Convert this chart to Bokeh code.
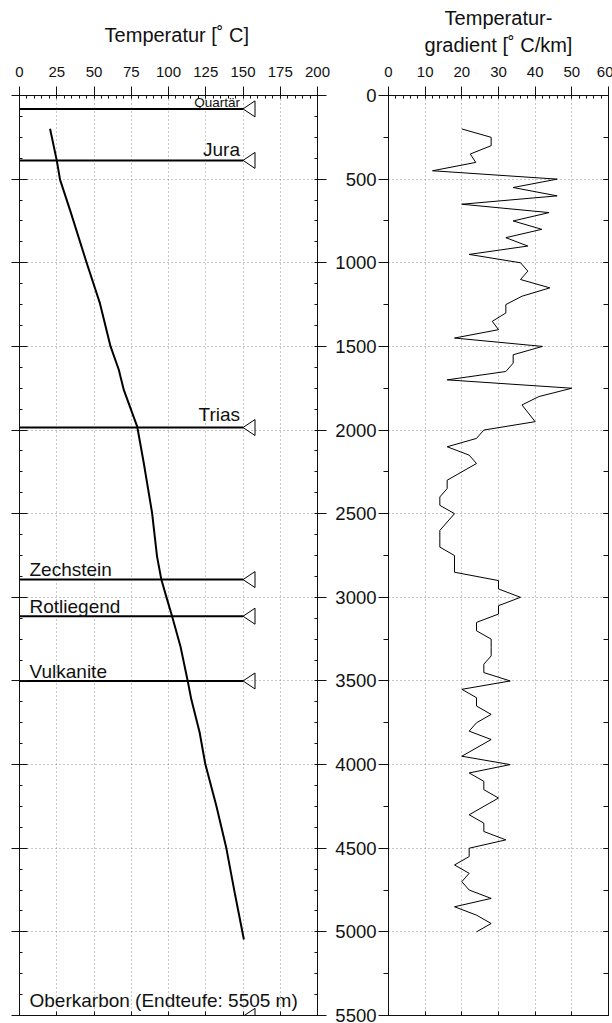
from bokeh.plotting import figure
from bokeh.layouts import row
from bokeh.models import Range1d, LinearAxis, FixedTicker
from bokeh.core.properties import value
from bokeh.embed import file_html
from bokeh.resources import INLINE

# --- data -------------------------------------------------------------
# Borehole temperature log: depth [m] and temperature [deg C]
temp_depth = [199, 388, 503, 696, 998, 1243, 1500, 1641, 1700, 1760, 1979,
              2197, 2496, 2755, 2894, 2993, 3113, 3292, 3500, 3610, 3808,
              3997, 4246, 4499, 4783, 5046]
temp_value = [20.5, 25.0, 27.2, 34.3, 45.0, 54.0, 61.1, 66.7, 68.3, 70.0,
              79.0, 83.4, 89.0, 92.3, 95.2, 98.4, 102.4, 108.0, 112.9, 115.3,
              120.9, 124.7, 132.1, 138.8, 144.8, 150.6]

# Temperature gradient: depth [m] and gradient [deg C/km]
grad_depth = [200, 250, 300, 350, 400, 450, 500, 550, 600, 650, 700, 750,
              800, 850, 900, 950, 1000, 1050, 1100, 1150, 1200, 1250, 1300,
              1350, 1400, 1450, 1500, 1550, 1600, 1650, 1700, 1750, 1800,
              1850, 1950, 2000, 2050, 2100, 2150, 2200, 2300, 2350, 2400,
              2450, 2500, 2600, 2650, 2700, 2750, 2800, 2850, 2900, 2950,
              3000, 3050, 3100, 3150, 3200, 3250, 3300, 3350, 3400, 3450,
              3500, 3550, 3600, 3650, 3700, 3750, 3800, 3850, 3950, 4000,
              4050, 4100, 4150, 4200, 4300, 4350, 4400, 4450, 4500, 4550,
              4600, 4650, 4700, 4750, 4800, 4850, 4900, 4950, 5000]
grad_value = [20, 28, 28, 22.3, 23.8, 12, 46, 34, 46, 20, 43.8, 34,
              41.8, 32, 38, 22, 36, 38, 36, 44, 36.4, 32, 32,
              28.3, 30, 18, 42, 34, 34, 32, 16, 50, 41,
              36.4, 40, 26, 24, 16, 22, 24, 16, 16, 14,
              14, 18, 14, 14, 14, 18, 18, 18, 30, 30,
              36, 30, 30, 24, 24, 28, 28, 28, 26, 26,
              33.2, 20, 24, 24, 28, 24, 22, 28, 20, 33.2,
              22, 26, 26, 30, 22, 26, 26, 32, 22, 22,
              18, 22, 20, 22, 28, 18, 24, 28, 24]

# Stratigraphic horizons (base depth in m)
horizon_names = ["Quartär", "Jura", "Trias", "Zechstein", "Rotliegend",
                 "Vulkanite", "Oberkarbon (Endteufe: 5505 m)"]
horizon_depth = [80, 388, 1985, 2894, 3113, 3500, 5505]
horizon_temp_end = 150  # horizon marker lines run to 150 deg C

# Axis ticks
temp_ticks = [0, 25, 50, 75, 100, 125, 150, 175, 200]
temp_minor = list(range(0, 201, 5))
grad_ticks = [0, 10, 20, 30, 40, 50, 60]
grad_minor = list(range(0, 61, 2))
depth_ticks = [0, 500, 1000, 1500, 2000, 2500, 3000, 3500, 4000, 4500,
               5000, 5500]

# --- styling ----------------------------------------------------------
FONT = "Liberation Sans"
INK = "#111111"
GRID = "#8c8c8c"
NBSP = "\u00a0"
label_side = ["right", "right", "right", "left", "left", "left", "left"]
label_size = ["13.5px"] + ["19px"] * 6
label_lift = [6, 11, 13, 10, 10, 9, 16]

FRAME_H = 920


def style_axis(ax, labels=True, size="15px"):
    ax.axis_line_color = INK
    ax.major_tick_line_color = INK
    ax.minor_tick_line_color = INK
    ax.major_label_text_font = FONT
    ax.major_label_text_color = INK
    ax.major_label_text_font_size = size if labels else "0px"
    ax.axis_label_text_font = FONT
    ax.axis_label_text_font_style = "normal"
    ax.axis_label_text_color = INK
    ax.axis_label_text_font_size = "20px"


def make_fig(x_end, frame_w, bl, br):
    p = figure(x_range=Range1d(0, x_end), y_range=Range1d(5500, 0),
               frame_width=frame_w, frame_height=FRAME_H,
               min_border_left=bl, min_border_right=br,
               min_border_top=95, min_border_bottom=8,
               x_axis_location="above", toolbar_location=None,
               output_backend="svg", background_fill_color="white",
               border_fill_color="white")
    p.outline_line_color = INK
    p.xgrid.grid_line_color = GRID
    p.ygrid.grid_line_color = GRID
    p.xgrid.grid_line_dash = "1 3"
    p.ygrid.grid_line_dash = "1 3"
    p.ygrid.ticker = FixedTicker(ticks=depth_ticks[1:-1])
    return p


# --- left panel: temperature -----------------------------------------
p1 = make_fig(200, 298, 19, 15)
p1.xgrid.ticker = FixedTicker(ticks=temp_ticks[1:-1])

top1 = p1.xaxis[0]
top1.ticker = FixedTicker(ticks=temp_ticks, minor_ticks=temp_minor)
style_axis(top1)
top1.axis_label = NBSP * 3 + "Temperatur [˚ C]"
top1.major_tick_out = 9
top1.major_tick_in = 3
top1.minor_tick_in = 3
top1.minor_tick_out = 0
top1.major_label_standoff = 10
top1.axis_label_standoff = 18

bottom1 = LinearAxis(ticker=FixedTicker(ticks=temp_ticks, minor_ticks=[]))
style_axis(bottom1, labels=False)
bottom1.major_tick_in = 4
bottom1.major_tick_out = 0
p1.add_layout(bottom1, "below")

depth_minor_125 = list(range(0, 5501, 125))
left1 = p1.yaxis[0]
left1.ticker = FixedTicker(ticks=depth_ticks, minor_ticks=depth_minor_125)
style_axis(left1, labels=False)
left1.major_tick_out = 8
left1.major_tick_in = 8
left1.minor_tick_in = 3
left1.minor_tick_out = 0

right1 = LinearAxis(ticker=FixedTicker(ticks=depth_ticks,
                                       minor_ticks=depth_minor_125))
style_axis(right1, labels=False)
right1.major_tick_out = 9
right1.major_tick_in = 2
right1.minor_tick_in = 3
right1.minor_tick_out = 0
p1.add_layout(right1, "right")

# temperature curve
p1.line(temp_value, temp_depth, line_color="black", line_width=2)

# horizon lines with open marker triangles
px_per_degC = 298 / 200
px_per_m = FRAME_H / 5500
tri_w = 12 / px_per_degC
tri_h = 8 / px_per_m
p1.segment(x0=[0] * len(horizon_depth),
           x1=[horizon_temp_end] * len(horizon_depth),
           y0=horizon_depth, y1=horizon_depth,
           line_color="black", line_width=2)
p1.patches(xs=[[horizon_temp_end, horizon_temp_end + tri_w,
                horizon_temp_end + tri_w] for d in horizon_depth],
           ys=[[d, d - tri_h, d + tri_h] for d in horizon_depth],
           fill_color=None, line_color="black", line_width=1)

for name, d, side, size, lift in zip(horizon_names, horizon_depth,
                                     label_side, label_size, label_lift):
    if side == "right":
        x, align, dx = horizon_temp_end, "right", -3
    else:
        x, align, dx = 0, "left", 10
    p1.text(x=[x], y=[d], text=[name], text_align=align,
            text_baseline="alphabetic", x_offset=dx, y_offset=-lift,
            text_font=value(FONT), text_font_size=size, text_color=INK)

# --- right panel: gradient ------------------------------------------
p2 = make_fig(60, 220, 55, 5)
p2.xgrid.ticker = FixedTicker(ticks=grad_ticks[1:-1])

top2 = p2.xaxis[0]
top2.ticker = FixedTicker(ticks=grad_ticks, minor_ticks=grad_minor)
style_axis(top2)
top2.axis_label = "Temperatur-\ngradient [˚ C/km]"
top2.major_tick_out = 9
top2.major_tick_in = 3
top2.minor_tick_in = 3
top2.minor_tick_out = 0
top2.major_label_standoff = 10
top2.axis_label_standoff = 8

bottom2 = LinearAxis(ticker=FixedTicker(ticks=grad_ticks, minor_ticks=[]))
style_axis(bottom2, labels=False)
bottom2.major_tick_in = 4
bottom2.major_tick_out = 0
p2.add_layout(bottom2, "below")

depth_minor_250 = list(range(0, 5501, 250))
left2 = p2.yaxis[0]
left2.ticker = FixedTicker(ticks=depth_ticks, minor_ticks=depth_minor_250)
style_axis(left2, size="18.5px")
left2.major_tick_out = 10
left2.major_tick_in = 0
left2.minor_tick_out = 5
left2.minor_tick_in = 0
left2.major_label_standoff = 2

right2 = LinearAxis(ticker=FixedTicker(ticks=depth_ticks,
                                       minor_ticks=depth_minor_250))
style_axis(right2, labels=False)
right2.major_tick_in = 5
right2.major_tick_out = 0
right2.minor_tick_in = 5
right2.minor_tick_out = 0
p2.add_layout(right2, "right")

p2.line(grad_value, grad_depth, line_color="black", line_width=1)

layout = row(p1, p2, spacing=0)
open("out.html", "w").write(file_html(layout, INLINE))
